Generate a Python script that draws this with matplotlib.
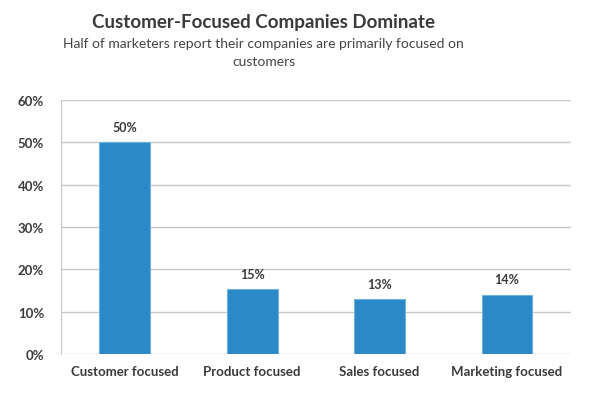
import numpy as np
import matplotlib.pyplot as plt

plt.rcParams['font.family'] = ['Lato', 'DejaVu Sans']

# Data
categories = ['Customer focused', 'Product focused', 'Sales focused', 'Marketing focused']
values = [50.1, 15.3, 13.0, 14.0]
bar_labels = ['50%', '15%', '13%', '14%']
y_ticks = [0, 10, 20, 30, 40, 50, 60]

fig = plt.figure(figsize=(5.97, 4.02), dpi=100)
ax = fig.add_axes([0.102, 0.117, 0.854, 0.632])

x = np.arange(len(categories))
ax.bar(x, values, width=0.4, color='#2a89c6', edgecolor='#6fb3de', linewidth=0.8, zorder=3)

for xi, v, lab in zip(x, values, bar_labels):
    ax.text(xi, v + 2.2, lab, ha='center', va='bottom', fontsize=9,
            fontweight='bold', color='#3a3a3a')

ax.set_xlim(-0.5, len(categories) - 0.5)
ax.set_ylim(0, 60)
ax.set_yticks(y_ticks)
ax.set_yticklabels([f'{t}%' for t in y_ticks], fontsize=9.5, fontweight='bold', color='#3a3a3a')
ax.set_xticks(x)
ax.set_xticklabels(categories, fontsize=9.5, fontweight='bold', color='#3a3a3a')
ax.tick_params(axis='both', length=0, pad=8)
ax.tick_params(axis='y', pad=12)

ax.grid(axis='y', color='#c8c8c8', linewidth=1, zorder=0)
for s in ['top', 'right', 'bottom']:
    ax.spines[s].set_visible(False)
ax.spines['left'].set_color('#c8c8c8')

cx = 0.442
fig.text(cx, 0.945, 'Customer-Focused Companies Dominate', ha='center', va='center',
         fontsize=13.5, fontweight='bold', color='#3a3a3a')
fig.text(cx, 0.89, 'Half of marketers report their companies are primarily focused on',
         ha='center', va='center', fontsize=10, color='#444444')
fig.text(cx, 0.845, 'customers', ha='center', va='center', fontsize=10, color='#444444')

fig.savefig('out.png', dpi=100)
